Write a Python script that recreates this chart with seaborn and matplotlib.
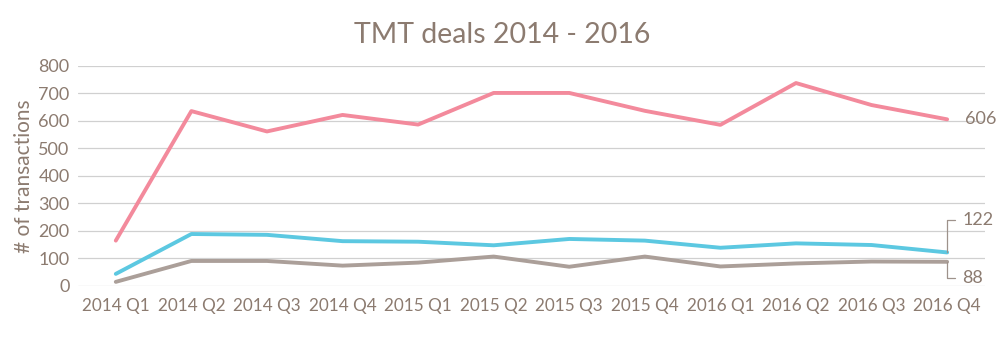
import matplotlib
matplotlib.use("Agg")
import matplotlib.pyplot as plt
import seaborn as sns
import pandas as pd

quarters = ["2014 Q1", "2014 Q2", "2014 Q3", "2014 Q4",
            "2015 Q1", "2015 Q2", "2015 Q3", "2015 Q4",
            "2016 Q1", "2016 Q2", "2016 Q3", "2016 Q4"]
series_a = [165, 636, 562, 622, 587, 702, 702, 637, 586, 738, 658, 606]
series_b = [44, 189, 186, 163, 161, 148, 171, 165, 139, 155, 149, 122]
series_c = [15, 91, 91, 74, 85, 107, 70, 107, 71, 82, 89, 88]
series_names = ["A", "B", "C"]
yticks = [0, 100, 200, 300, 400, 500, 600, 700, 800]

colors = ["#F38A9C", "#5CC8E1", "#AB9F99"]
txt = "#8C7B70"

sns.set_theme(style="white")
plt.rcParams['font.family'] = ['Lato', 'DejaVu Sans']

rows = []
for name, vals in zip(series_names, [series_a, series_b, series_c]):
    for i, (q, v) in enumerate(zip(quarters, vals)):
        rows.append({"idx": i, "quarter": q, "value": v, "series": name})
df = pd.DataFrame(rows)

fig = plt.figure(figsize=(10.04, 3.55), dpi=100)
ax = fig.add_axes([0.0777, 0.1944, 0.9033, 0.6197])

sns.lineplot(data=df, x="idx", y="value", hue="series", palette=colors,
             linewidth=2.8, ax=ax, legend=False, sort=False)

ax.set_xlim(-0.5, 11.5)
ax.set_ylim(0, 800)
ax.set_yticks(yticks)
ax.set_yticklabels([str(t) for t in yticks])
ax.set_xticks(range(len(quarters)))
ax.set_xticklabels(quarters)
ax.grid(axis="y", color="#D0D0D0", linewidth=0.9)
ax.set_axisbelow(True)
for s in ax.spines.values():
    s.set_visible(False)
ax.tick_params(axis="y", length=0, colors=txt, labelsize=13, pad=6)
ax.tick_params(axis="x", length=0, colors=txt, labelsize=12.3, pad=9)
ax.set_xlabel("")
ax.set_ylabel("# of transactions", color=txt, fontsize=15, labelpad=3)
fig.text(0.5, 1 - 35 / 355, "TMT deals 2014 - 2016", color=txt, fontsize=20.5,
         ha="center", va="center")

# end labels
last = len(quarters) - 1
ax.text(last + 0.24, series_a[-1], str(series_a[-1]), color=txt, fontsize=13,
        va="center", ha="left")
# leader for series B
yb = 240
ax.plot([last, last, last + 0.11], [series_b[-1], yb, yb], color="#9E928B",
        linewidth=0.9, clip_on=False)
ax.text(last + 0.2, yb, str(series_b[-1]), color=txt, fontsize=13,
        va="center", ha="left")
yc = 29
ax.plot([last, last, last + 0.11], [series_c[-1], yc, yc], color="#9E928B",
        linewidth=0.9, clip_on=False)
ax.text(last + 0.2, yc, str(series_c[-1]), color=txt, fontsize=13,
        va="center", ha="left")

fig.savefig("out.png", dpi=100)
